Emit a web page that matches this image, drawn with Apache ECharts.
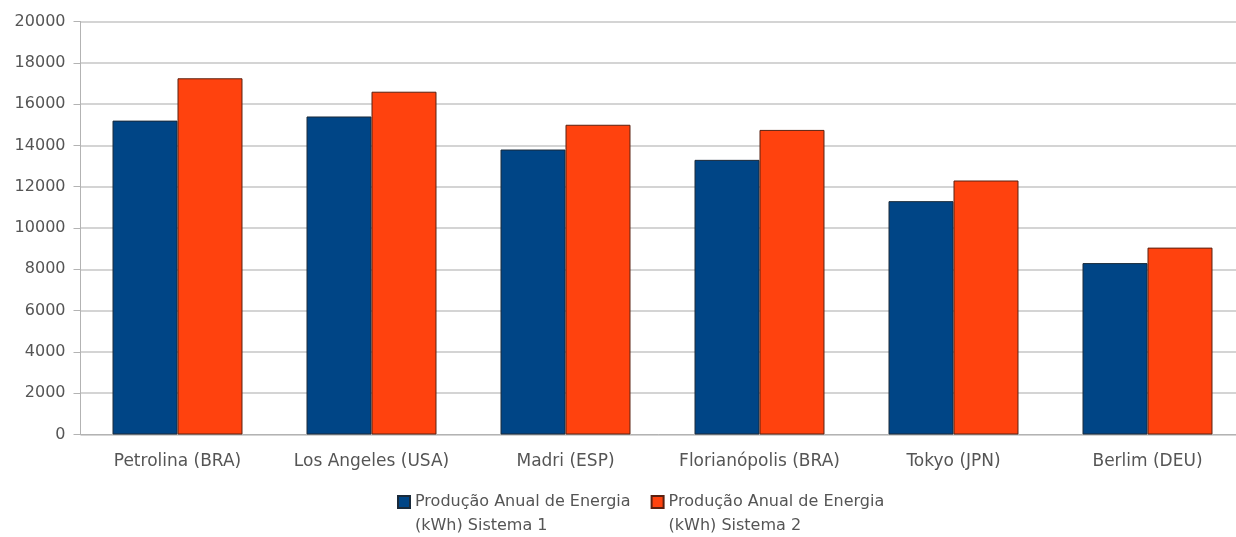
<!DOCTYPE html>
<html><head><meta charset="utf-8">
<script src="https://cdn.jsdelivr.net/npm/echarts@6/dist/echarts.min.js"></script>
<style>html,body{margin:0;padding:0;background:#fff}#c{width:1236px;height:537px}</style>
</head><body><div id="c"></div>
<script>
const categories = ['Petrolina (BRA)', 'Los Angeles (USA)', 'Madri (ESP)', 'Florianópolis (BRA)', 'Tokyo (JPN)', 'Berlim (DEU)'];
const sistema1 = [15200, 15400, 13800, 13300, 11300, 8300];
const sistema2 = [17250, 16600, 15000, 14750, 12300, 9050];
const seriesNames = ['Produção Anual de Energia\n(kWh) Sistema 1', 'Produção Anual de Energia\n(kWh) Sistema 2'];
const yTicks = { min: 0, max: 20000, interval: 2000 };

const chart = echarts.init(document.getElementById('c'));
const font = 'DejaVu Sans, sans-serif';
chart.setOption({
  animation: false,
  backgroundColor: '#fff',
  grid: { left: 80.5, top: 21.5, width: 1164, height: 413, containLabel: false, outerBoundsMode: 'none' },
  legend: {
    left: 392, top: 461,
    itemWidth: 12, itemHeight: 12, itemGap: 20,
    icon: 'rect',
    data: seriesNames,
    formatter: function (n) { return '\n' + n; },
    textStyle: { fontFamily: font, fontSize: 16, color: '#555', lineHeight: 24 }
  },
  xAxis: {
    type: 'category', data: categories,
    axisLine: { lineStyle: { color: '#b3b3b3', width: 1 } },
    axisTick: { alignWithLabel: true, length: 5, lineStyle: { color: '#b3b3b3' } },
    axisLabel: { fontFamily: font, fontSize: 17, color: '#555', margin: 19, interval: 0, hideOverlap: false }
  },
  yAxis: {
    type: 'value', min: yTicks.min, max: yTicks.max, interval: yTicks.interval,
    axisLine: { show: true, lineStyle: { color: '#b3b3b3' } },
    axisTick: { show: true, length: 7, lineStyle: { color: '#b3b3b3' } },
    axisLabel: { fontFamily: font, fontSize: 16, color: '#555', margin: 15, formatter: function (v) { return String(v); } },
    splitLine: { lineStyle: { color: '#d4d4d4', width: 2 } }
  },
  series: [
    { name: seriesNames[0], type: 'bar', data: sistema1, barGap: '0%', barCategoryGap: '33%',
      itemStyle: { color: '#004586', borderColor: '#1a2a3a', borderWidth: 1 } },
    { name: seriesNames[1], type: 'bar', data: sistema2, barGap: '0%', barCategoryGap: '33%',
      itemStyle: { color: '#ff420e', borderColor: '#5a2010', borderWidth: 1 } }
  ]
});
</script></body></html>
